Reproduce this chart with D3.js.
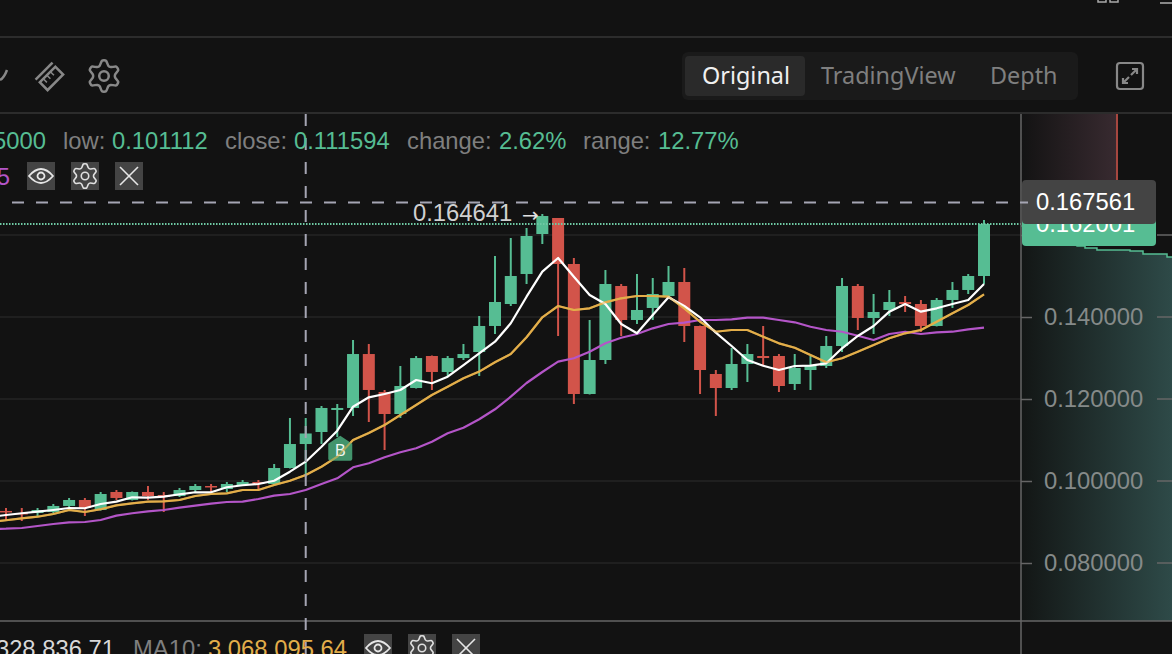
<!DOCTYPE html>
<html>
<head>
<meta charset="utf-8">
<style>
html, body { margin: 0; padding: 0; background: #121212; overflow: hidden; }
svg { display: block; font-family: "Liberation Sans", Arial, sans-serif; }
</style>
<script src="https://cdn.jsdelivr.net/npm/d3@7"></script>
</head>
<body>
<svg id="chart" width="1172" height="654"></svg>
<script>
// candles, first one sits just off the left edge so the MA lines reach x=0
var opens = [0.09150,
  0.09269,0.09220,0.09220,0.09244,0.09391,0.09537,0.09293,0.09732,0.09537,0.09732,
  0.09659,0.09634,0.09780,0.09878,0.09805,0.09902,0.09975,0.09927,0.10317,0.10902,
  0.11195,0.11732,0.11781,0.13097,0.12171,0.11634,0.12268,0.13049,0.12659,0.12999,
  0.13146,0.13781,0.14317,0.15049,0.16024,0.16415,0.15293,0.12122,0.12951,0.14756,
  0.13927,0.14220,0.14512,0.14854,0.13781,0.12610,0.12268,0.12854,0.13049,0.13049,
  0.12366,0.12707,0.12805,0.13293,0.14756,0.13976,0.14171,0.14366,0.14317,0.13781,
  0.14415,0.14659,0.15000];
var highs = [0.09250,
  0.09342,0.09342,0.09342,0.09439,0.09586,0.09586,0.09732,0.09780,0.09745,0.09878,
  0.09732,0.09829,0.09927,0.09927,0.09975,0.10024,0.10024,0.10415,0.11537,0.11537,
  0.11830,0.11878,0.13439,0.13341,0.12220,0.12805,0.13049,0.13061,0.13049,0.13341,
  0.14025,0.15488,0.15927,0.16171,0.16512,0.16415,0.15439,0.13927,0.15146,0.14805,
  0.15049,0.14951,0.15244,0.15195,0.13790,0.12707,0.13244,0.13341,0.13781,0.13097,
  0.13097,0.13049,0.13537,0.14951,0.14805,0.14561,0.14659,0.14512,0.14415,0.14463,
  0.14854,0.15049,0.16366];
var lows = [0.09050,
  0.09049,0.09024,0.09146,0.09220,0.09366,0.09146,0.09280,0.09537,0.09525,0.09537,
  0.09244,0.09610,0.09732,0.09659,0.09732,0.09878,0.09780,0.09902,0.10305,0.10111,
  0.10902,0.11073,0.11586,0.11439,0.10756,0.11537,0.12256,0.12220,0.12561,0.12951,
  0.12561,0.13585,0.14268,0.14805,0.15780,0.13537,0.11878,0.12110,0.12854,0.13537,
  0.13829,0.13927,0.14500,0.13390,0.12122,0.11586,0.12220,0.12415,0.12805,0.12171,
  0.12220,0.12220,0.12756,0.13146,0.13683,0.13585,0.14025,0.14122,0.13634,0.13770,
  0.14220,0.14561,0.14805];
var closes = [0.09200,
  0.09244,0.09195,0.09293,0.09391,0.09537,0.09342,0.09683,0.09586,0.09732,0.09634,
  0.09610,0.09780,0.09878,0.09854,0.09927,0.09975,0.09927,0.10317,0.10902,0.11159,
  0.11781,0.11781,0.13097,0.12220,0.11634,0.12317,0.12999,0.12659,0.12999,0.13097,
  0.13781,0.14366,0.15000,0.15976,0.16463,0.15293,0.12122,0.12951,0.14805,0.13927,
  0.14171,0.14561,0.14854,0.13781,0.12707,0.12268,0.12854,0.13097,0.12999,0.12317,
  0.12756,0.12805,0.13293,0.14756,0.13976,0.14122,0.14366,0.14317,0.13781,0.14415,
  0.14659,0.15000,0.16268];

var ma5 = [0.09122,
  0.09171,0.09213,0.09252,0.09293,0.09342,0.09335,0.09439,0.09496,0.09603,0.09593,
  0.09617,0.09676,0.09725,0.09725,0.09847,0.09896,0.09927,0.10007,0.10227,0.10471,
  0.10837,0.11227,0.11812,0.12041,0.12122,0.12220,0.12463,0.12383,0.12544,0.12829,
  0.13114,0.13398,0.13846,0.14495,0.15105,0.15439,0.14983,0.14537,0.14317,0.13829,
  0.13602,0.14049,0.14480,0.14268,0.13993,0.13617,0.13293,0.12951,0.12812,0.12707,
  0.12805,0.12812,0.12871,0.13237,0.13537,0.13781,0.14130,0.14317,0.14130,0.14212,
  0.14317,0.14415,0.14805];
var ma10 = [0.09000,
  0.09042,0.09090,0.09129,0.09195,0.09293,0.09244,0.09310,0.09407,0.09456,0.09496,
  0.09505,0.09537,0.09634,0.09683,0.09700,0.09780,0.09780,0.09902,0.10007,0.10146,
  0.10348,0.10593,0.11000,0.11171,0.11366,0.11610,0.11854,0.12098,0.12300,0.12505,
  0.12668,0.12897,0.13097,0.13505,0.13993,0.14268,0.14171,0.14212,0.14358,0.14456,
  0.14512,0.14512,0.14495,0.14212,0.13885,0.13641,0.13683,0.13683,0.13520,0.13358,
  0.13251,0.13073,0.12897,0.12993,0.13154,0.13317,0.13481,0.13602,0.13683,0.13885,
  0.14090,0.14293,0.14554];
var ma30 = [0.08829,
  0.08837,0.08854,0.08903,0.08952,0.08993,0.09000,0.09049,0.09154,0.09213,0.09261,
  0.09293,0.09349,0.09398,0.09447,0.09488,0.09496,0.09561,0.09642,0.09683,0.09780,
  0.09927,0.10066,0.10334,0.10432,0.10578,0.10700,0.10798,0.10959,0.11164,0.11300,
  0.11505,0.11749,0.12056,0.12390,0.12659,0.12910,0.12993,0.13154,0.13358,0.13495,
  0.13585,0.13724,0.13829,0.13861,0.13927,0.13927,0.13944,0.13983,0.13983,0.13927,
  0.13871,0.13763,0.13683,0.13641,0.13544,0.13439,0.13585,0.13641,0.13585,0.13627,
  0.13641,0.13700,0.13739];

var priceTicks = [0.16, 0.14, 0.12, 0.10, 0.08];

// depth panel on the right
var bidQty = [0, 0.371, 0.424, 0.503, 0.722, 0.808, 0.967, 1];
var bidPrice = [0.16220, 0.15732, 0.15683, 0.15634, 0.15610, 0.15537, 0.15463, 0.15463];
var askQty = 0.636;

var lastPriceLine = 0.16268;
var crossPriceLine = 0.16795;
var crossIndex = 20;
var buyIndex = 22;

var tabs = ['Original', 'TradingView', 'Depth'];
var statLabels = ['low:', 'close:', 'change:', 'range:'];
var statValues = ['0.101112', '0.111594', '2.62%', '12.77%'];

var GREEN = '#56bd93', RED = '#d2544a', GREY = '#7f7f7f';
var W = 1172, H = 654, axisX = 1021, axisY = 621, headY = 113;
var FS = 23.8;

var svg = d3.select('#chart');

var x = d3.scaleLinear().domain([0, 63]).range([-9.77, 984]);
var y = d3.scaleLinear().domain([0.16, 0.08]).range([235, 563]);
var depthX = d3.scaleLinear().domain([0, 1]).range([axisX, W]);

var defs = svg.append('defs');
function hGrad(id, from, to) {
    var g = defs.append('linearGradient').attr('id', id);
    g.append('stop').attr('offset', 0).attr('stop-color', from);
    g.append('stop').attr('offset', 1).attr('stop-color', to);
}
hGrad('askFill', '#131313', '#382a30');
hGrad('bidFill', '#131615', '#2e4a48');

// background
svg.append('rect').attr('width', W).attr('height', H).attr('fill', '#121212');

// top bars
svg.append('line').attr('x1', 0).attr('x2', W).attr('y1', 37).attr('y2', 37).attr('stroke', '#2c2c2c').attr('stroke-width', 2);
svg.append('line').attr('x1', 0).attr('x2', W).attr('y1', headY).attr('y2', headY).attr('stroke', '#2c2c2c').attr('stroke-width', 2);

// bits of the window above the crop
svg.append('rect').attr('x', 1098).attr('y', -6).attr('width', 8).attr('height', 8).attr('fill', 'none').attr('stroke', '#aaa').attr('stroke-width', 1.5);
svg.append('rect').attr('x', 1110).attr('y', -6).attr('width', 8).attr('height', 8).attr('fill', 'none').attr('stroke', '#aaa').attr('stroke-width', 1.5);
svg.append('line').attr('x1', 1160).attr('x2', W).attr('y1', 3).attr('y2', 3).attr('stroke', '#888').attr('stroke-width', 2);

// depth areas
var askX = depthX(askQty);
svg.append('rect').attr('x', axisX).attr('y', headY + 1).attr('width', askX - axisX).attr('height', 80).attr('fill', 'url(#askFill)');
svg.append('line').attr('x1', askX).attr('x2', askX).attr('y1', headY + 1).attr('y2', 182).attr('stroke', RED).attr('stroke-width', 1.5);

var bidPts = d3.range(bidQty.length);
var bidArea = d3.area().curve(d3.curveStepAfter)
    .x(function(i) { return depthX(bidQty[i]); })
    .y0(axisY)
    .y1(function(i) { return y(bidPrice[i]); });
var bidLine = d3.line().curve(d3.curveStepAfter)
    .x(function(i) { return depthX(bidQty[i]); })
    .y(function(i) { return y(bidPrice[i]); });
svg.append('path').attr('d', bidArea(bidPts)).attr('fill', 'url(#bidFill)');
svg.append('path').attr('d', bidLine(bidPts)).attr('fill', 'none').attr('stroke', GREEN).attr('stroke-width', 1.5);

// grid
svg.append('g').selectAll('line').data(priceTicks).enter().append('line')
    .attr('x1', 0).attr('x2', axisX)
    .attr('y1', function(d) { return y(d); }).attr('y2', function(d) { return y(d); })
    .attr('stroke', '#252525').attr('stroke-width', 1.5);

// plot clip
defs.append('clipPath').attr('id', 'plotClip').append('rect').attr('x', 0).attr('y', headY).attr('width', axisX).attr('height', axisY - headY);
var plot = svg.append('g').attr('clip-path', 'url(#plotClip)');

// candles
var idx = d3.range(opens.length);
function candleColor(i) { return closes[i] >= opens[i] ? GREEN : RED; }
plot.append('g').selectAll('line').data(idx).enter().append('line')
    .attr('x1', function(i) { return x(i); }).attr('x2', function(i) { return x(i); })
    .attr('y1', function(i) { return y(highs[i]); }).attr('y2', function(i) { return y(lows[i]); })
    .attr('stroke', candleColor).attr('stroke-width', 2);
plot.append('g').selectAll('rect').data(idx).enter().append('rect')
    .attr('x', function(i) { return x(i) - 6; })
    .attr('width', 12)
    .attr('y', function(i) { return y(Math.max(opens[i], closes[i])); })
    .attr('height', function(i) { return Math.max(1.5, Math.abs(y(opens[i]) - y(closes[i]))); })
    .attr('fill', candleColor);

// buy marker
var buy = plot.append('g').attr('transform', 'translate(' + (x(buyIndex) + 3) + ',' + y(lows[buyIndex - 1] - 0.0014) + ')');
buy.append('path').attr('d', 'M0,-14 L12,-6 V9 Q12,11 10,11 H-10 Q-12,11 -12,9 V-6 Z').attr('fill', '#479f74');

// moving averages
function maPath(values) {
    return d3.line().x(function(d, i) { return x(i); }).y(function(d) { return y(d); })(values);
}
[[ma30, '#b455c8'], [ma10, '#e3ae4a'], [ma5, '#ffffff']].forEach(function(s) {
    plot.append('path').attr('d', maPath(s[0])).attr('fill', 'none').attr('stroke', s[1]).attr('stroke-width', 2.2).attr('stroke-linejoin', 'round');
});

// B goes over the lines
buy.raise();
buy.select('path').attr('fill-opacity', 0.92);
buy.append('text').attr('y', 6).attr('text-anchor', 'middle').attr('font-size', 16).attr('fill', '#f0f8f4').text('B');
plot.append('path').attr('d', maPath(ma10)).attr('fill', 'none').attr('stroke', '#e3ae4a').attr('stroke-width', 2).attr('stroke-opacity', 0.55);

// high label
svg.append('text').attr('x', 413).attr('y', 221).attr('font-size', FS).attr('fill', '#d0d0d0').text('0.164641');
svg.append('text').attr('x', 522).attr('y', 222).attr('font-family', '"DejaVu Sans", sans-serif').attr('font-size', 20).attr('fill', '#e0e0e0').text('→');

// last price dotted line
svg.append('line').attr('x1', 0).attr('x2', axisX)
    .attr('y1', y(lastPriceLine)).attr('y2', y(lastPriceLine))
    .attr('stroke', '#6fc9a4').attr('stroke-width', 2).attr('stroke-dasharray', '1.5,1.5');

// axes frame
svg.append('line').attr('x1', 0).attr('x2', W).attr('y1', axisY).attr('y2', axisY).attr('stroke', '#666').attr('stroke-width', 1.5);
svg.append('line').attr('x1', axisX).attr('x2', axisX).attr('y1', headY + 1).attr('y2', H).attr('stroke', '#666').attr('stroke-width', 1.5);

// price axis
var axis = d3.axisRight(y).tickValues(priceTicks).tickFormat(d3.format('.6f')).tickSize(11).tickPadding(12);
var axisG = svg.append('g').attr('transform', 'translate(' + axisX + ',0)').call(axis);
axisG.select('.domain').remove();
axisG.selectAll('line').attr('stroke', '#666').attr('stroke-width', 1.5);
axisG.selectAll('text').attr('font-size', FS).attr('font-family', '"Liberation Sans", Arial, sans-serif').attr('fill', '#858a89');
svg.append('g').selectAll('line').data(priceTicks).enter().append('line')
    .attr('x1', 1157).attr('x2', W)
    .attr('y1', function(d) { return y(d); }).attr('y2', function(d) { return y(d); })
    .attr('stroke', '#666').attr('stroke-width', 1.5);

// price tags
svg.append('rect').attr('x', 1022).attr('y', 205).attr('width', 134).attr('height', 41).attr('rx', 4).attr('fill', GREEN);
svg.append('text').attr('x', 1036).attr('y', 232).attr('font-size', FS).attr('fill', '#fff').text('0.162001');
svg.append('rect').attr('x', 1022).attr('y', 180).attr('width', 134).attr('height', 44).attr('rx', 4).attr('fill', '#444444');
svg.append('text').attr('x', 1036).attr('y', 210).attr('font-size', FS).attr('fill', '#fff').text('0.167561');

// crosshair
svg.append('line').attr('x1', -12).attr('x2', 1028)
    .attr('y1', y(crossPriceLine)).attr('y2', y(crossPriceLine))
    .attr('stroke', '#a5a5b3').attr('stroke-width', 2).attr('stroke-dasharray', '12,12');
svg.append('line').attr('x1', x(crossIndex)).attr('x2', x(crossIndex))
    .attr('y1', headY + 1).attr('y2', H)
    .attr('stroke', '#a5a5b3').attr('stroke-width', 2).attr('stroke-dasharray', '12,12');

// stats row
svg.append('text').attr('x', 46).attr('y', 149).attr('text-anchor', 'end').attr('font-size', FS).attr('fill', GREEN).text('5000');
var statLabelX = [63, 225, 407, 583], statValueX = [112, 294, 499, 658];
statLabels.forEach(function(t, i) {
    svg.append('text').attr('x', statLabelX[i]).attr('y', 149).attr('font-size', FS).attr('fill', GREY).text(t);
    svg.append('text').attr('x', statValueX[i]).attr('y', 149).attr('font-size', FS).attr('fill', GREEN).text(statValues[i]);
});

// icons
var gearLobes = [1.1, 1.1, 0.8, 0.8];
function gearPath(r) {
    var n = 24, pts = d3.range(n).map(function(i) {
        return [(i - 0.5) * 2 * Math.PI / n, r * gearLobes[i % 4]];
    });
    return d3.lineRadial().curve(d3.curveCardinalClosed.tension(0.4))(pts);
}
function gear(cx, cy, r, color, sw) {
    var g = svg.append('g').attr('transform', 'translate(' + cx + ',' + cy + ')').attr('fill', 'none').attr('stroke', color).attr('stroke-width', sw);
    g.append('path').attr('d', gearPath(r));
    g.append('circle').attr('r', r * 0.34);
}
function eye(cx, cy, color) {
    var g = svg.append('g').attr('transform', 'translate(' + cx + ',' + cy + ')').attr('fill', 'none').attr('stroke', color).attr('stroke-width', 1.8);
    g.append('path').attr('d', 'M-12,0 Q0,-14 12,0 Q0,14 -12,0 Z');
    g.append('circle').attr('r', 3.5);
}
function cross(cx, cy, color) {
    var g = svg.append('g').attr('transform', 'translate(' + cx + ',' + cy + ')').attr('stroke', color).attr('stroke-width', 1.6);
    g.append('line').attr('x1', -9).attr('y1', -9).attr('x2', 9).attr('y2', 9);
    g.append('line').attr('x1', -9).attr('y1', 9).attr('x2', 9).attr('y2', -9);
}
function iconRow(xs, yTop) {
    xs.forEach(function(bx) {
        svg.append('rect').attr('x', bx).attr('y', yTop).attr('width', 28).attr('height', 28).attr('fill', '#444');
    });
    eye(xs[0] + 14, yTop + 14, '#e6e6e6');
    gear(xs[1] + 14, yTop + 14, 11, '#e0e0e0', 1.6);
    cross(xs[2] + 14, yTop + 14, '#e6e6e6');
}

// indicator row
svg.append('text').attr('x', 10).attr('y', 185).attr('text-anchor', 'end').attr('font-size', FS).attr('fill', '#b455c8').text('5');
iconRow([27, 71, 115], 162);

// toolbar left
svg.append('path').attr('d', 'M0,80 Q4,78 7,70').attr('fill', 'none').attr('stroke', '#888').attr('stroke-width', 2.5);
var ruler = svg.append('g').attr('transform', 'translate(49,76) rotate(-45)').attr('fill', 'none').attr('stroke', '#888').attr('stroke-width', 2.5);
ruler.append('line').attr('x1', -12).attr('x2', 12).attr('y1', -7).attr('y2', -7);
ruler.append('rect').attr('x', -11).attr('y', -2).attr('width', 22).attr('height', 11);
[-6, -1, 4].forEach(function(tx) {
    ruler.append('line').attr('x1', tx).attr('x2', tx).attr('y1', -2).attr('y2', 3).attr('stroke-width', 1.5);
});
gear(104, 76, 14, '#888', 2.5);

// tabs
svg.append('rect').attr('x', 682).attr('y', 52).attr('width', 396).attr('height', 48).attr('rx', 6).attr('fill', '#1a1a1a');
svg.append('rect').attr('x', 685).attr('y', 56).attr('width', 120).attr('height', 40).attr('rx', 4).attr('fill', '#2a2a2a');
var tabX = [702, 821, 990], tabColor = ['#f0f0f0', '#7f7f7f', '#7f7f7f'];
tabs.forEach(function(t, i) {
    svg.append('text').attr('x', tabX[i]).attr('y', 84).attr('font-family', '"Noto Sans", sans-serif').attr('font-size', 23.4).attr('fill', tabColor[i]).text(t);
});

// expand button
var ex = svg.append('g').attr('transform', 'translate(1130,76)').attr('fill', 'none').attr('stroke', '#888').attr('stroke-width', 2.2);
ex.append('rect').attr('x', -13).attr('y', -13).attr('width', 26).attr('height', 26).attr('rx', 3);
ex.append('path').attr('d', 'M1,-1 L7,-7 M2,-7 H7 V-2 M-1,1 L-7,7 M-7,2 V7 H-2');

// volume legend at the bottom, cut off by the crop
svg.append('text').attr('x', 115).attr('y', 657).attr('text-anchor', 'end').attr('font-size', FS).attr('fill', '#d8d8d8').text('328,836.71');
svg.append('text').attr('x', 133).attr('y', 657).attr('font-size', FS).attr('fill', GREY).text('MA10:');
svg.append('text').attr('x', 208).attr('y', 657).attr('font-size', FS).attr('fill', '#e3ae4a').text('3,068,095.64');
iconRow([364, 408, 452], 634);
</script>
</body>
</html>
